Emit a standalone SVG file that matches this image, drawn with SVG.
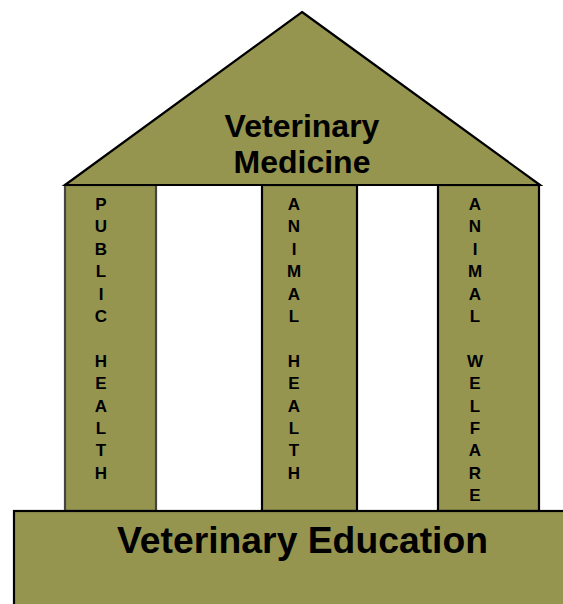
<svg xmlns="http://www.w3.org/2000/svg" width="563" height="604" viewBox="0 0 563 604">
<style>
.olive{fill:#959550;stroke:#000;stroke-width:2.2}
.big{font-family:"Liberation Sans",Arial,sans-serif;font-weight:bold;fill:#000;text-anchor:middle}
.v{font-family:"Liberation Sans",Arial,sans-serif;font-weight:bold;font-size:17px;fill:#000;text-anchor:middle}
</style>
<rect width="563" height="604" fill="#fff"/>
<g id="pillar-public-health">
<rect x="65" y="185" width="91" height="326" fill="#959550" stroke="#444" stroke-width="2.2"/>
<text class="v" x="101" y="210"><tspan x="101">P</tspan><tspan x="101" dy="22.4">U</tspan><tspan x="101" dy="22.4">B</tspan><tspan x="101" dy="22.4">L</tspan><tspan x="101" dy="22.4">I</tspan><tspan x="101" dy="22.4">C</tspan><tspan x="101" dy="44.8">H</tspan><tspan x="101" dy="22.4">E</tspan><tspan x="101" dy="22.4">A</tspan><tspan x="101" dy="22.4">L</tspan><tspan x="101" dy="22.4">T</tspan><tspan x="101" dy="22.4">H</tspan></text>
</g>
<g id="pillar-animal-health">
<rect x="262" y="185" width="95" height="326" class="olive"/>
<text class="v" x="294" y="210"><tspan x="294">A</tspan><tspan x="294" dy="22.4">N</tspan><tspan x="294" dy="22.4">I</tspan><tspan x="294" dy="22.4">M</tspan><tspan x="294" dy="22.4">A</tspan><tspan x="294" dy="22.4">L</tspan><tspan x="294" dy="44.8">H</tspan><tspan x="294" dy="22.4">E</tspan><tspan x="294" dy="22.4">A</tspan><tspan x="294" dy="22.4">L</tspan><tspan x="294" dy="22.4">T</tspan><tspan x="294" dy="22.4">H</tspan></text>
</g>
<g id="pillar-animal-welfare">
<rect x="438" y="185" width="101" height="326" class="olive"/>
<text class="v" x="475" y="210"><tspan x="475">A</tspan><tspan x="475" dy="22.4">N</tspan><tspan x="475" dy="22.4">I</tspan><tspan x="475" dy="22.4">M</tspan><tspan x="475" dy="22.4">A</tspan><tspan x="475" dy="22.4">L</tspan><tspan x="475" dy="44.8">W</tspan><tspan x="475" dy="22.4">E</tspan><tspan x="475" dy="22.4">L</tspan><tspan x="475" dy="22.4">F</tspan><tspan x="475" dy="22.4">A</tspan><tspan x="475" dy="22.4">R</tspan><tspan x="475" dy="22.4">E</tspan></text>
</g>
<g id="roof">
<polygon points="302,12 540,185 65,185" class="olive" stroke-linejoin="miter"/>
<text class="big" x="302" y="137" font-size="32">Veterinary</text>
<text class="big" x="302" y="172.5" font-size="32">Medicine</text>
</g>
<g id="base">
<rect x="14" y="511" width="560" height="100" class="olive"/>
<text class="big" x="302.5" y="553" font-size="37.3">Veterinary Education</text>
</g>
<g id="connectors"></g>
</svg>
